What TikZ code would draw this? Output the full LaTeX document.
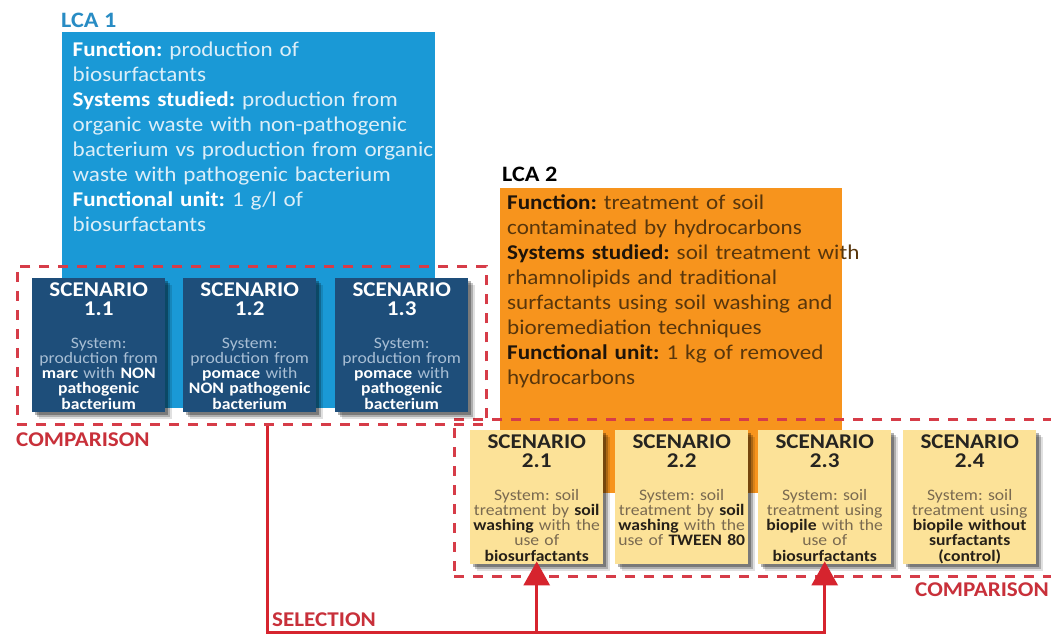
\documentclass[tikz,border=0pt]{standalone}
\usepackage{fontspec}
\setmainfont{Carlito}[FakeStretch=1.1]
\usetikzlibrary{shadows,arrows.meta,calc}
\frenchspacing
\definecolor{lcablue}{RGB}{26,153,214}
\definecolor{lcatitle}{RGB}{40,140,196}
\definecolor{navy}{RGB}{30,78,122}
\definecolor{lcaorange}{RGB}{247,148,29}
\definecolor{scenyellow}{RGB}{252,226,152}
\definecolor{dashred}{RGB}{214,60,72}
\definecolor{selred}{RGB}{214,36,46}
\definecolor{labred}{RGB}{200,48,58}
\definecolor{bluetext}{RGB}{220,238,248}
\definecolor{navytext}{RGB}{168,190,212}
\definecolor{orangetext}{RGB}{88,54,12}
\definecolor{orangebold}{RGB}{30,20,10}
\definecolor{yellowtext}{RGB}{122,106,80}
\definecolor{yellowbold}{RGB}{38,32,24}
\definecolor{headdark}{RGB}{38,36,32}
\newcommand{\Kwhite}[1]{{\bfseries\color{white}#1}}
\newcommand{\Kdark}[1]{{\bfseries\color{orangebold}#1}}
\newcommand{\Kyel}[1]{{\bfseries\color{yellowbold}#1}}
% name, x, y, box style, body style, header colour, header, body
\newcommand{\Scen}[8]{%
  \node[scenbox,#4] (#1) at (#2,#3) {};
  \node[scenhead,text=#6] (#1h) at ([yshift=-18.5pt]#1.north) {#7};
  \node[scenbody,#5] (#1b) at ([yshift=-70pt]#1.north) {#8};
}
\begin{document}
\begin{tikzpicture}[x=1pt,y=-1pt,
  titlefont/.style={font=\fontsize{22}{26}\selectfont\bfseries},
  lcatext/.style={anchor=base west, text width=430pt, align=left, inner sep=0pt,
    font=\fontsize{21}{25}\selectfont},
  bigbox/.style={anchor=north west, inner sep=0pt},
  cmpbox/.style={anchor=north west, inner sep=0pt, draw=dashred, line width=2.5pt,
    dash pattern=on 10pt off 9pt},
  scenbox/.style={minimum width=133pt, minimum height=134pt, inner sep=0pt, anchor=north west,
    drop shadow={shadow xshift=7pt, shadow yshift=-7pt, fill=black, opacity=0.12},
    drop shadow={shadow xshift=5pt, shadow yshift=-5pt, fill=black, opacity=0.22},
    drop shadow={shadow xshift=3pt, shadow yshift=-3pt, fill=black, opacity=0.3}},
  navybox/.style={fill=navy},
  yelbox/.style={fill=scenyellow},
  scenhead/.style={anchor=base, text width=150pt, align=center, inner sep=0pt,
    font=\fontsize{21}{18.5}\selectfont\bfseries},
  scenbody/.style={anchor=base, text width=150pt, align=center, inner sep=0pt,
    font=\fontsize{16}{15.3}\selectfont},
  navytxt/.style={text=navytext},
  yeltxt/.style={text=yellowtext},
  lab/.style={anchor=base west, inner sep=0pt, text=labred,
    font=\fontsize{21}{24}\selectfont\bfseries},
  selline/.style={draw=selred, line width=3pt}
]
\useasboundingbox[fill=white] (0,0) rectangle (1051,635);

% LCA 1
\node[titlefont, text=lcatitle, anchor=base west, inner sep=0pt] (lca1t) at (61,27) {LCA 1};
\node[bigbox, fill=lcablue, minimum width=373pt, minimum height=376pt] (lca1) at (62,32) {};
\node[lcatext, text=bluetext] (lca1b) at (72.5,56) {\Kwhite{Function:} production of\\
biosurfactants\\
\Kwhite{Systems studied:} production from\\
organic waste with non-pathogenic\\
bacterium vs production from organic\\
waste with pathogenic bacterium\\
\Kwhite{Functional unit:} 1 g/l of\\
biosurfactants};

% LCA 2
\node[titlefont, text=black, anchor=base west, inner sep=0pt] (lca2t) at (502,181) {LCA 2};
\node[bigbox, fill=lcaorange, minimum width=342pt, minimum height=305pt] (lca2) at (500,188) {};
\node[lcatext, text=orangetext] (lca2b) at (507,209) {\Kdark{Function:} treatment of soil\\
contaminated by hydrocarbons\\
\Kdark{Systems studied:} soil treatment with\\
rhamnolipids and traditional\\
surfactants using soil washing and\\
bioremediation techniques\\
\Kdark{Functional unit:} 1 kg of removed\\
hydrocarbons};

% comparison frames
\node[cmpbox, minimum width=469pt, minimum height=158pt] (cmp1) at (16,265) {};
\node[cmpbox, minimum width=620pt, minimum height=157pt] (cmp2) at (453,418) {};

% scenarios LCA 1
\Scen{s11}{32}{278}{navybox}{navytxt}{white}{SCENARIO\\1.1}{System:\\production from\\\Kwhite{marc} with \Kwhite{NON}\\\Kwhite{pathogenic}\\\Kwhite{bacterium}}
\Scen{s12}{183}{278}{navybox}{navytxt}{white}{SCENARIO\\1.2}{System:\\production from\\\Kwhite{pomace} with\\\Kwhite{NON pathogenic}\\\Kwhite{bacterium}}
\Scen{s13}{335}{278}{navybox}{navytxt}{white}{SCENARIO\\1.3}{System:\\production from\\\Kwhite{pomace} with\\\Kwhite{pathogenic}\\\Kwhite{bacterium}}

% scenarios LCA 2
\Scen{s21}{470}{430}{yelbox}{yeltxt}{headdark}{SCENARIO\\2.1}{System: soil\\treatment by \Kyel{soil}\\\Kyel{washing} with the\\use of\\\Kyel{biosurfactants}}
\Scen{s22}{615}{430}{yelbox}{yeltxt}{headdark}{SCENARIO\\2.2}{System: soil\\treatment by \Kyel{soil}\\\Kyel{washing} with the\\use of \Kyel{TWEEN 80}}
\Scen{s23}{758}{430}{yelbox}{yeltxt}{headdark}{SCENARIO\\2.3}{System: soil\\treatment using\\\Kyel{biopile} with the\\use of\\\Kyel{biosurfactants}}
\Scen{s24}{903}{430}{yelbox}{yeltxt}{headdark}{SCENARIO\\2.4}{System: soil\\treatment using\\\Kyel{biopile without}\\\Kyel{surfactants}\\\Kyel{(control)}}

% selection connectors
\coordinate (selcorner) at (267,632);
\draw[selline, -{Triangle[width=26pt,length=24pt]}, shorten >=-3pt]
  (cmp1.south -| selcorner) -- (selcorner) -- (selcorner -| s23.south) -- (s23.south);
\draw[selline, -{Triangle[width=26pt,length=24pt]}, shorten >=-3pt]
  (selcorner -| s21.south) -- (s21.south);

% labels
\node[lab] (cmp1l) at (16,446.5) {COMPARISON};
\node[lab] (cmp2l) at (915,596) {COMPARISON};
\node[lab] (sell) at (272,626.5) {SELECTION};
\end{tikzpicture}
\end{document}
